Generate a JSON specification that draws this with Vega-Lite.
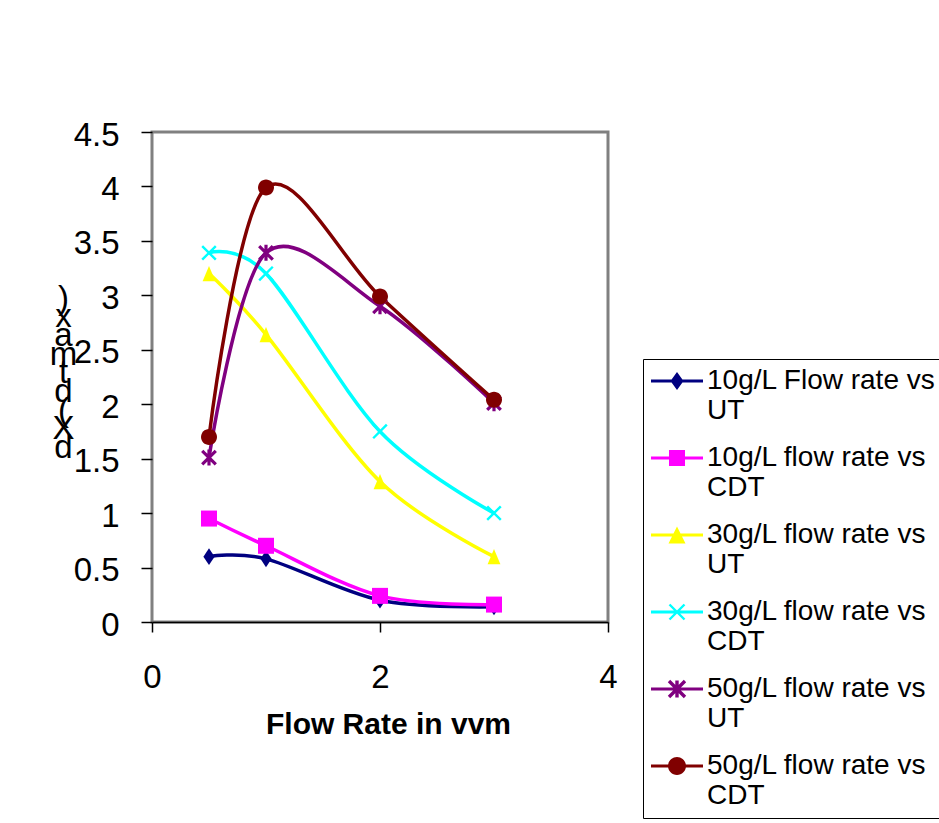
{
  "$schema": "https://vega.github.io/schema/vega-lite/v6.json",
  "width": 456,
  "height": 490,
  "autosize": "none",
  "padding": {"left": 152, "top": 132, "right": 331, "bottom": 201},
  "background": "white",
  "config": {
    "font": "Liberation Sans",
    "view": {"stroke": "#808080", "strokeWidth": 3},
    "axis": {
      "grid": false,
      "labelFont": "Liberation Sans",
      "labelColor": "black",
      "tickColor": "black",
      "tickWidth": 1.5,
      "domainColor": "black",
      "domainWidth": 1.5,
      "titleColor": "black",
      "titleFont": "Liberation Sans"
    },
    "legend": {"strokeColor": "black", "fillColor": "white", "padding": 8}
  },
  "data": {
    "values": [
      {"series": "10g/L Flow rate vs UT", "rate": 0.5, "value": 0.6},
      {"series": "10g/L Flow rate vs UT", "rate": 1, "value": 0.58},
      {"series": "10g/L Flow rate vs UT", "rate": 2, "value": 0.2},
      {"series": "10g/L Flow rate vs UT", "rate": 3, "value": 0.14},
      {"series": "10g/L flow rate vs CDT", "rate": 0.5, "value": 0.95},
      {"series": "10g/L flow rate vs CDT", "rate": 1, "value": 0.7},
      {"series": "10g/L flow rate vs CDT", "rate": 2, "value": 0.24},
      {"series": "10g/L flow rate vs CDT", "rate": 3, "value": 0.16},
      {"series": "30g/L flow rate vs UT", "rate": 0.5, "value": 3.2},
      {"series": "30g/L flow rate vs UT", "rate": 1, "value": 2.64},
      {"series": "30g/L flow rate vs UT", "rate": 2, "value": 1.29},
      {"series": "30g/L flow rate vs UT", "rate": 3, "value": 0.6},
      {"series": "30g/L flow rate vs CDT", "rate": 0.5, "value": 3.39},
      {"series": "30g/L flow rate vs CDT", "rate": 1, "value": 3.2},
      {"series": "30g/L flow rate vs CDT", "rate": 2, "value": 1.75},
      {"series": "30g/L flow rate vs CDT", "rate": 3, "value": 1.0},
      {"series": "50g/L flow rate vs UT", "rate": 0.5, "value": 1.51},
      {"series": "50g/L flow rate vs UT", "rate": 1, "value": 3.39},
      {"series": "50g/L flow rate vs UT", "rate": 2, "value": 2.9},
      {"series": "50g/L flow rate vs UT", "rate": 3, "value": 2.01},
      {"series": "50g/L flow rate vs CDT", "rate": 0.5, "value": 1.7},
      {"series": "50g/L flow rate vs CDT", "rate": 1, "value": 3.99},
      {"series": "50g/L flow rate vs CDT", "rate": 2, "value": 2.99},
      {"series": "50g/L flow rate vs CDT", "rate": 3, "value": 2.04}
    ]
  },
  "encoding": {
    "x": {
      "field": "rate",
      "type": "quantitative",
      "scale": {"domain": [0, 4], "nice": false},
      "axis": {
        "values": [0, 2, 4],
        "format": "d",
        "labelFlush": false,
        "labelFontSize": 33,
        "labelPadding": 29,
        "tickSize": 10,
        "title": "Flow Rate in vvm",
        "titleFontSize": 30,
        "titleFontWeight": "bold",
        "titleAlign": "center",
        "titleBaseline": "alphabetic",
        "titleX": 236,
        "titleY": 111
      }
    },
    "y": {
      "field": "value",
      "type": "quantitative",
      "scale": {"domain": [0, 4.5], "nice": false},
      "axis": {
        "values": [0, 0.5, 1, 1.5, 2, 2.5, 3, 3.5, 4, 4.5],
        "format": "~g",
        "labelFlush": false,
        "labelFontSize": 33,
        "labelPadding": 22,
        "labelOffset": 3,
        "tickSize": 11,
        "domain": false,
        "title": [")", "x", "a", "m", "t", "d", "(", "X", "d"],
        "titleAngle": 0,
        "titleFontSize": 33,
        "titleFontWeight": "normal",
        "titleLineHeight": 18.7,
        "titleAlign": "center",
        "titleBaseline": "alphabetic",
        "titleX": -89,
        "titleY": 176
      }
    }
  },
  "layer": [
    {
      "transform": [{"filter": "datum.rate > 100"}],
      "mark": {"type": "point", "filled": true, "opacity": 1},
      "encoding": {
        "color": {
          "field": "series",
          "type": "nominal",
          "scale": {
            "domain": ["10g/L Flow rate vs UT", "10g/L flow rate vs CDT", "30g/L flow rate vs UT", "30g/L flow rate vs CDT", "50g/L flow rate vs UT", "50g/L flow rate vs CDT"],
            "range": ["#000080", "#FF00FF", "#FFFF00", "#00FFFF", "#800080", "#800000"]
          },
          "legend": {
            "title": null,
            "orient": "none",
            "legendX": 491,
            "legendY": 227,
            "symbolSize": 400,
            "symbolStrokeWidth": 0,
            "symbolOffset": 12,
            "labelFont": "Liberation Sans",
            "labelFontSize": 28,
            "labelColor": "black",
            "labelLimit": 400,
            "labelBaseline": "middle",
            "labelOffset": 16,
            "rowPadding": 19,
            "labelExpr": "[slice(datum.label, 0, indexof(datum.label, ' vs ') + 3), slice(datum.label, indexof(datum.label, ' vs ') + 4)]"
          }
        },
        "shape": {
          "field": "series",
          "type": "nominal",
          "scale": {
            "domain": ["10g/L Flow rate vs UT", "10g/L flow rate vs CDT", "30g/L flow rate vs UT", "30g/L flow rate vs CDT", "50g/L flow rate vs UT", "50g/L flow rate vs CDT"],
            "range": [
              "M-2.6,-0.15H2.6V0.15H-2.6ZM0,-0.9L0.65,0L0,0.9L-0.65,0Z",
              "M-2.6,-0.15H2.6V0.15H-2.6ZM-0.8,-0.8H0.8V0.8H-0.8Z",
              "M-2.6,-0.15H2.6V0.15H-2.6ZM0,-0.85L0.85,0.85H-0.85Z",
              "M-2.6,-0.15H2.6V0.15H-2.6ZM-0.665,-0.835L0.835,0.665L0.665,0.835L-0.835,-0.665ZM0.835,-0.665L-0.665,0.835L-0.835,0.665L0.665,-0.835Z",
              "M-2.6,-0.15H2.6V0.15H-2.6ZM-0.68,-0.92L0.92,0.68L0.68,0.92L-0.92,-0.68ZM0.92,-0.68L-0.68,0.92L-0.92,0.68L0.68,-0.92ZM-0.17,-0.85H0.17V0.85H-0.17Z",
              "M-2.6,-0.15H2.6V0.15H-2.6ZM-0.9,0A0.9,0.9,0,1,1,0.9,0A0.9,0.9,0,1,1,-0.9,0Z"
            ]
          },
          "legend": {
            "title": null,
            "orient": "none",
            "legendX": 491,
            "legendY": 227,
            "symbolSize": 400,
            "symbolStrokeWidth": 0,
            "symbolOffset": 12,
            "labelFont": "Liberation Sans",
            "labelFontSize": 28,
            "labelColor": "black",
            "labelLimit": 400,
            "labelBaseline": "middle",
            "labelOffset": 16,
            "rowPadding": 19,
            "labelExpr": "[slice(datum.label, 0, indexof(datum.label, ' vs ') + 3), slice(datum.label, indexof(datum.label, ' vs ') + 4)]"
          }
        }
      }
    },
    {
      "mark": {"type": "line", "interpolate": "cardinal", "tension": 0, "strokeWidth": 3.5},
      "encoding": {
        "color": {"field": "series", "type": "nominal", "legend": null}
      }
    },
    {
      "transform": [{"filter": "datum.series === '10g/L Flow rate vs UT'"}],
      "mark": {"type": "point", "filled": true, "opacity": 1, "size": 256, "color": "#000080", "shape": "M0,-1.05L0.7,0L0,1.05L-0.7,0Z"}
    },
    {
      "transform": [{"filter": "datum.series === '10g/L flow rate vs CDT'"}],
      "mark": {"type": "point", "filled": true, "opacity": 1, "size": 256, "color": "#FF00FF", "shape": "M-1,-1H1V1H-1Z"}
    },
    {
      "transform": [{"filter": "datum.series === '30g/L flow rate vs UT'"}],
      "mark": {"type": "point", "filled": true, "opacity": 1, "size": 256, "color": "#FFFF00", "shape": "M0,-0.95L0.8,0.95H-0.8Z"}
    },
    {
      "transform": [{"filter": "datum.series === '30g/L flow rate vs CDT'"}],
      "mark": {"type": "point", "filled": true, "opacity": 1, "size": 256, "color": "#00FFFF", "shape": "M-0.744,-0.956L0.956,0.744L0.744,0.956L-0.956,-0.744ZM0.956,-0.744L-0.744,0.956L-0.956,0.744L0.744,-0.956Z"}
    },
    {
      "transform": [{"filter": "datum.series === '50g/L flow rate vs UT'"}],
      "mark": {"type": "point", "filled": true, "opacity": 1, "size": 256, "color": "#800080", "shape": "M-0.709,-0.991L0.991,0.709L0.709,0.991L-0.991,-0.709ZM0.991,-0.709L-0.709,0.991L-0.991,0.709L0.709,-0.991ZM-0.2,-1H0.2V1H-0.2Z"}
    },
    {
      "transform": [{"filter": "datum.series === '50g/L flow rate vs CDT'"}],
      "mark": {"type": "point", "filled": true, "opacity": 1, "size": 256, "color": "#800000", "shape": "M-1,0A1,1,0,1,1,1,0A1,1,0,1,1,-1,0Z"}
    }
  ]
}
